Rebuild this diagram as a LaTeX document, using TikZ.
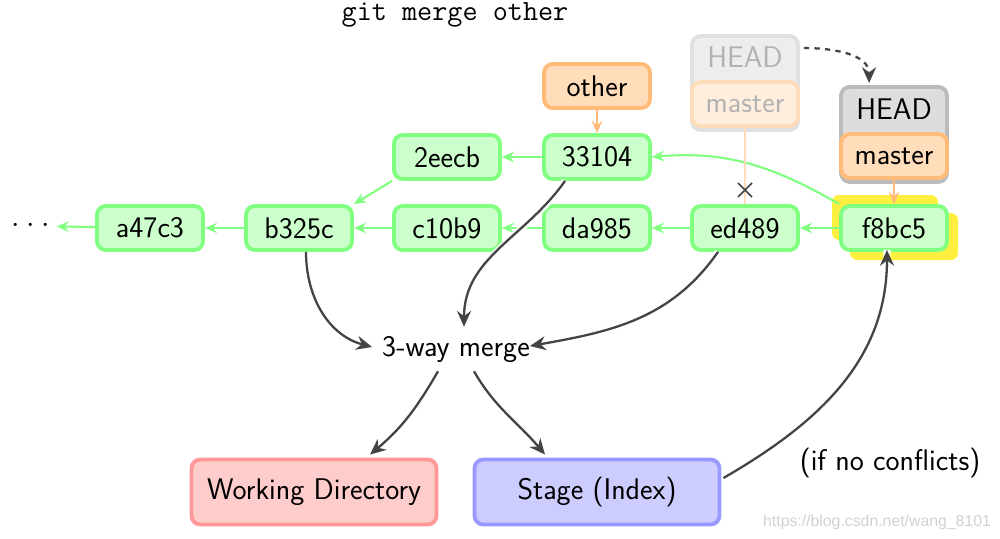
\documentclass[tikz,border=0pt]{standalone}
\usepackage{fontspec}
\newfontfamily\wmfont{Liberation Sans}
\usetikzlibrary{arrows.meta,calc}
\definecolor{gfill}{HTML}{CCFFCC}
\definecolor{gdraw}{HTML}{80FF80}
\definecolor{ofill}{HTML}{FFDDBB}
\definecolor{odraw}{HTML}{FFBB77}
\definecolor{hfill}{HTML}{DDDDDD}
\definecolor{hdraw}{HTML}{BBBBBB}
\definecolor{rfill}{HTML}{FFCCCC}
\definecolor{rdraw}{HTML}{FF9999}
\definecolor{bfill}{HTML}{CCCCFF}
\definecolor{bdraw}{HTML}{9999FF}
\definecolor{dark}{HTML}{444444}
\definecolor{ylw}{HTML}{FFF040}
\begin{document}
\begin{tikzpicture}[x=0.02cm,y=-0.02cm,
  font=\sffamily\fontsize{17}{20}\selectfont,
  box/.style={rounded corners=5pt,line width=2.2pt,minimum width=2.12cm,minimum height=0.88cm,inner sep=0pt},
  commit/.style={box,fill=gfill,draw=gdraw},
  branch/.style={box,fill=ofill,draw=odraw},
  garr/.style={draw=gdraw,line width=1.2pt,-{Stealth[length=7pt,width=6pt,inset=2.5pt]}},
  oarr/.style={draw=odraw,line width=1.2pt,-{Stealth[length=7pt,width=6pt,inset=2.5pt]}},
  darr/.style={draw=dark,line width=1.3pt,-{Stealth[length=9pt,width=8pt,inset=3pt]},preaction={draw=white,line width=4pt,-}},
  area/.style={box,minimum width=4.9cm,minimum height=1.3cm}
]
\useasboundingbox (0,0) rectangle (1000,538);

\node[font=\ttfamily\fontsize{16.7}{19}\selectfont] (title) at (455,15) {git merge other};

% yellow highlight behind f8bc5
\fill[ylw,rounded corners=4pt] (832,195) rectangle (938,240);
\fill[ylw,rounded corners=4pt] (850,213) rectangle (958,260);

% commits
\node[commit] (a47c3) at (150,228) {a47c3};
\node[commit] (b325c) at (299,228) {b325c};
\node[commit] (c10b9) at (447,228) {c10b9};
\node[commit] (da985) at (597,228) {da985};
\node[commit] (ed489) at (745,228) {ed489};
\node[commit] (f8bc5) at (894,228) {f8bc5};
\node[commit] (2eecb) at (447,157) {2eecb};
\node[commit] (33104) at (597,157) {33104};
\node (dots) at (31,226) {$\cdot$\hspace{3.8pt}$\cdot$\hspace{3.8pt}$\cdot$};

% branches
\node[branch] (other) at (597,86) {other};

% faded HEAD/master
\node[box,fill=black!7,draw=black!12,minimum height=1.88cm,text=black!30,anchor=north] (oldhead) at (745,34) {};
\node[text=black!30] (oldheadt) at (745,57) {HEAD};
\node[box,fill=ofill!50,draw=odraw!50,text=black!30] (oldmaster) at (745,104) {master};

% real HEAD/master
\node[box,fill=hfill,draw=hdraw,minimum height=1.9cm,anchor=north] (head) at (894,85) {};
\node (headt) at (894,109) {HEAD};
\node[branch] (master) at (894,156) {master};

% green history arrows
\draw[garr] (33104) -- (2eecb);
\draw[garr] (2eecb.south west) -- (b325c.north east);
\draw[garr] (c10b9) -- (b325c);
\draw[garr] (da985) -- (c10b9);
\draw[garr] (ed489) -- (da985);
\draw[garr] (f8bc5) -- (ed489);
\draw[garr] (b325c) -- (a47c3);
\draw[garr] (a47c3) -- (dots);
\draw[garr] (f8bc5.north west) to[out=150,in=5] (33104.east);

% branch pointers
\draw[oarr] (other) -- (33104);
\draw[oarr] (master) -- (f8bc5);
\coordinate (xmark) at (745,190);
\draw[draw=odraw!50,line width=1.2pt] (oldmaster.south) -- (ed489.north);
\draw[dark,line width=0.9pt] ($(xmark)+(-7,-7)$) -- ($(xmark)+(7,7)$) ($(xmark)+(-7,7)$) -- ($(xmark)+(7,-7)$);
\draw[dark,line width=1.3pt,dashed,-{Stealth[length=9pt,width=8pt,inset=3pt]}] ($(oldhead.north east)+(4,14)$) to[out=0,in=90] ($(head.north west)+(30,-2)$);

% merge
\node (merge) at (456,350) {3-way merge};
\node[area,fill=rfill,draw=rdraw] (wd) at (314,492) {Working Directory};
\node[area,fill=bfill,draw=bdraw] (stage) at (597,492) {Stage (Index)};
\node (cond) at (890,463) {(if no conflicts)};

\draw[darr] ($(b325c.south)+(7,0)$) to[out=-90,in=165] ($(merge.west)+(-4,-3)$);
\draw[darr] ($(33104.south)+(-32,0)$) to[out=-125,in=90] ($(merge.north)+(8,-4)$);
\draw[darr] ($(ed489.south)+(-27,0)$) to[out=-125,in=10] ($(merge.east)+(-6,-4)$);
\draw[darr] ($(merge.south)+(-18,2)$) to[out=-120,in=40] ($(wd.north)+(56,-3)$);
\draw[darr] ($(merge.south)+(18,2)$) to[out=-60,in=130] ($(stage.north)+(-52,-3)$);
\draw[darr] ($(stage.east)+(2,-14)$) to[out=30,in=-90] ($(f8bc5.south)+(-7,-2)$);

\node[font=\wmfont\fontsize{9}{11}\selectfont,text=black!18] (wm) at (877,522) {https://blog.csdn.net/wang\_8101};
\end{tikzpicture}
\end{document}
